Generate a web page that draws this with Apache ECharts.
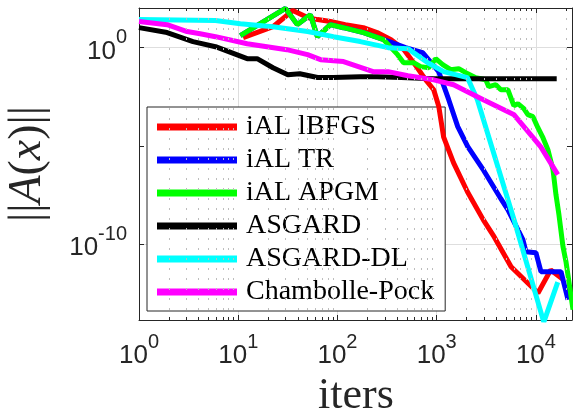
<!DOCTYPE html>
<html><head><meta charset="utf-8">
<script src="https://cdn.jsdelivr.net/npm/echarts@6/dist/echarts.min.js"></script>
<style>html,body{margin:0;padding:0;background:#fff}#c{width:573px;height:416px}</style>
</head><body><div id="c"></div>
<script>
const seriesNames = ['iAL lBFGS', 'iAL TR', 'iAL APGM', 'ASGARD', 'ASGARD-DL', 'Chambolle-Pock'];
const seriesColors = ['#ff0000', '#0000ff', '#00ff00', '#000000', '#00ffff', '#ff00ff'];

const lbfgsIters = [11.2, 22.4, 35.5, 50, 63, 85, 120, 182, 251, 347, 468, 617, 776, 933, 1050, 1175, 1480, 2040, 2950, 3800, 5620, 10500, 14100, 19000];
const lbfgsRes = [3.24, 11.7, 77.6, 33.9, 26.9, 21.4, 14.8, 10.5, 5.9, 2.57, 0.79, 0.12, 0.023, 7.2e-3, 1e-3, 2.8e-5, 1.35e-6, 4.6e-8, 1.7e-9, 2.3e-10, 6.9e-12, 3.2e-13, 4.8e-12, 1.5e-12];

const trIters = [10.5, 29.9, 39.4, 53.4, 62.8, 84.9, 115, 183, 292, 486, 722, 1047, 1322, 1630, 2057, 2985, 4430, 5210, 7390, 7930, 10000, 11240, 17900, 21050];
const trRes = [4.09, 100, 14.9, 48, 3.63, 14.9, 10.4, 5.8, 2.55, 1, 0.556, 0.0598, 2.24e-3, 9.5e-5, 9.1e-6, 5.4e-7, 2.03e-8, 5.6e-9, 1.66e-10, 4.06e-11, 3.6e-11, 3.9e-12, 3.9e-12, 1.45e-13];

const apgmIters = [10.5, 29.9, 39.4, 53.4, 62.8, 84.9, 115, 183, 292, 404, 464, 586, 689, 830, 977, 1150, 1384, 1667, 1963, 2477, 3126, 3350, 3945, 4430, 5210, 5990, 6580, 7560, 8300, 9330, 10470, 11770, 13200, 14860, 15920, 17060, 18750, 20090, 23650];
const apgmRes = [4.09, 100, 14.9, 48, 3.63, 14.9, 10.4, 5.8, 2.55, 0.44, 0.172, 0.172, 0.108, 0.0958, 0.275, 0.136, 0.0757, 0.085, 0.0532, 0.0296, 0.0234, 0.0103, 0.013, 7.25e-3, 7.25e-3, 1.11e-3, 1.4e-3, 7.8e-4, 3.86e-4, 3.05e-4, 8.4e-5, 2.6e-5, 6.4e-6, 6.1e-7, 3.24e-8, 3.1e-9, 7.2e-11, 1.26e-11, 4.5e-14];

const asgardIters = [1, 1.92, 3.5, 5.9, 12.3, 15.5, 22.4, 31.6, 41.7, 63, 91, 170, 251, 437, 933, 16200];
const asgardRes = [10.5, 5.9, 2.04, 1.12, 0.275, 0.275, 0.095, 0.042, 0.047, 0.030, 0.030, 0.033, 0.033, 0.030, 0.026, 0.026];

const dlIters = [1, 5.9, 10.5, 22.4, 50, 91, 170, 324, 513, 813, 1175, 2040, 2570, 6030, 12000, 16600];
const dlRes = [26.9, 24, 16.6, 11.7, 6.6, 3.63, 2.04, 1, 0.89, 0.17, 0.06, 0.03, 2.24e-3, 1.66e-9, 1.05e-14, 1.15e-12];

const cpIters = [1, 1.92, 3.05, 4.13, 5.9, 12.3, 30.9, 50, 67.6, 115, 229, 324, 513, 933, 1480, 2040, 2950, 6030, 11200, 16600];
const cpRes = [21.4, 14.8, 6.6, 5.1, 3.63, 1.58, 0.79, 0.44, 0.245, 0.195, 0.06, 0.06, 0.037, 0.023, 0.0129, 5.75e-3, 2.24e-3, 3.8e-4, 8.9e-6, 3.4e-7];

const xMin = 1, xMax = 23100;
const yMin = 1.35e-14, yMax = 104.7;
const yLabelExps = [0, -10];
const yMidGrid = [1e-5];
const xDecades = [1, 10, 100, 1000, 10000];
const minorMults = [2, 3, 4, 5, 6, 7, 8, 9];

const itersList = [lbfgsIters, trIters, apgmIters, asgardIters, dlIters, cpIters];
const resList = [lbfgsRes, trRes, apgmRes, asgardRes, dlRes, cpRes];

const axisColor = '#262626';
const minorX = [];
xDecades.forEach(d => minorMults.forEach(m => { if (d * m < xMax) minorX.push(d * m); }));

const rich = {
  b: { fontFamily: 'Liberation Sans', fontSize: 26, color: axisColor, padding: [8, 0, 0, 0] },
  s: { fontFamily: 'Liberation Sans', fontSize: 20, color: axisColor, padding: [0, 0, 20, 0] }
};
function expOf(v) { const e = Math.log10(v); const r = Math.round(e); return Math.abs(e - r) < 1e-6 ? r : null; }

const chart = echarts.init(document.getElementById('c'), null, { renderer: 'canvas' });

const lineSeries = seriesNames.map((name, i) => ({
  name: name,
  type: 'line',
  xAxisIndex: 0, yAxisIndex: 0,
  data: itersList[i].map((x, j) => [x, resList[i][j]]),
  showSymbol: false, symbol: 'none',
  lineStyle: { color: seriesColors[i], width: 5 },
  itemStyle: { color: seriesColors[i] },
  clip: true, z: 2, silent: true
}));

// tick lengths expressed as fractions of a decade
const minorTickDec = 3 / 19.63, majorTickDecX = 5 / 99;
const tickSegs = [];
minorX.forEach(v => {
  tickSegs.push([{ coord: [v, yMin] }, { coord: [v, yMin * Math.pow(10, minorTickDec)] }]);
  tickSegs.push([{ coord: [v, yMax] }, { coord: [v, yMax / Math.pow(10, minorTickDec)] }]);
});
yMidGrid.forEach(v => {
  tickSegs.push([{ coord: [xMin, v] }, { coord: [xMin * Math.pow(10, majorTickDecX), v] }]);
  tickSegs.push([{ coord: [xMax, v] }, { coord: [xMax / Math.pow(10, majorTickDecX), v] }]);
});

const helperSeries = [
  {
    type: 'line', data: [], z: 0, silent: true, xAxisIndex: 0, yAxisIndex: 0,
    markLine: {
      silent: true, symbol: ['none', 'none'], label: { show: false }, animation: false,
      lineStyle: { color: '#bdbdbd', width: 1, type: [2, 8] },
      emphasis: { disabled: true },
      data: minorX.map(v => ({ xAxis: v }))
    }
  },
  {
    type: 'line', data: [], z: 0, silent: true, xAxisIndex: 0, yAxisIndex: 0,
    markLine: {
      silent: true, symbol: ['none', 'none'], label: { show: false }, animation: false,
      lineStyle: { color: '#dedede', width: 1, type: 'solid' },
      emphasis: { disabled: true },
      data: yMidGrid.map(v => ({ yAxis: v }))
    }
  },
  {
    type: 'line', data: [], z: 3, silent: true, xAxisIndex: 0, yAxisIndex: 0,
    markLine: {
      silent: true, symbol: ['none', 'none'], label: { show: false }, animation: false,
      lineStyle: { color: axisColor, width: 1, type: 'solid' },
      emphasis: { disabled: true },
      data: tickSegs
    }
  }
];

const option = {
  backgroundColor: '#ffffff',
  animation: false,
  grid: { left: 139, right: 1, top: 8, bottom: 96, containLabel: false, outerBoundsMode: 'none' },
  xAxis: [
    {
      type: 'log', min: xMin, max: xMax, position: 'bottom', splitNumber: 5,
      axisLine: { show: true, onZero: false, lineStyle: { color: axisColor, width: 1 } },
      axisTick: { show: true, inside: true, length: 5, lineStyle: { color: axisColor } },
      axisLabel: {
        show: true, margin: 12, rich: rich,
        formatter: v => { const e = expOf(v); return e === null ? '' : '{b|10}{s|' + e + '}'; }
      },
      splitLine: { show: true, lineStyle: { color: '#dedede', width: 1 } },
      minorTick: { show: false }
    },
    {
      type: 'log', min: xMin, max: xMax, position: 'top', splitNumber: 5,
      axisLine: { show: true, onZero: false, lineStyle: { color: axisColor, width: 1 } },
      axisTick: { show: true, inside: true, length: 5, lineStyle: { color: axisColor } },
      axisLabel: { show: false },
      splitLine: { show: false }
    }
  ],
  yAxis: [
    {
      type: 'log', min: yMin, max: yMax, position: 'left', splitNumber: 3,
      axisLine: { show: true, onZero: false, lineStyle: { color: axisColor, width: 1 } },
      axisTick: { show: true, inside: true, length: 5, lineStyle: { color: axisColor } },
      axisLabel: {
        show: true, margin: 12, rich: rich, align: 'right',
        formatter: v => { const e = expOf(v); return (e === null || yLabelExps.indexOf(e) < 0) ? '' : '{b|10}{s|' + e + '}'; }
      },
      splitLine: { show: true, lineStyle: { color: '#dedede', width: 1 } }
    },
    {
      type: 'log', min: yMin, max: yMax, position: 'right', splitNumber: 3,
      axisLine: { show: true, onZero: false, lineStyle: { color: axisColor, width: 1 } },
      axisTick: { show: true, inside: true, length: 5, lineStyle: { color: axisColor } },
      axisLabel: { show: false },
      splitLine: { show: false }
    }
  ],
  legend: {
    show: true, orient: 'vertical', left: 147, top: 107, z: 1,
    data: seriesNames,
    icon: 'rect', itemWidth: 80, itemHeight: 7, itemGap: 5,
    padding: [6, 11, 5, 10],
    backgroundColor: '#ffffff', borderColor: axisColor, borderWidth: 1, borderRadius: 0,
    selectedMode: false,
    textStyle: { fontFamily: 'Liberation Serif', fontSize: 28, color: '#000', lineHeight: 28, padding: [0, 0, 0, 4] }
  },
  graphic: [
    {
      type: 'text', x: 28, y: 164, rotation: Math.PI / 2, silent: true,
      style: {
        text: '{n|||}{i|A}{n|(}{i|x}{n|)}{n|||}',
        rich: {
          n: { fontFamily: 'Liberation Serif', fontSize: 46, fill: axisColor },
          i: { fontFamily: 'Liberation Serif', fontSize: 46, fontStyle: 'italic', fill: axisColor }
        },
        align: 'center', verticalAlign: 'middle', textAlign: 'center', textVerticalAlign: 'middle'
      }
    },
    {
      type: 'text', x: 356, y: 396, silent: true,
      style: {
        text: 'iters', fontFamily: 'Liberation Serif', fontSize: 44, fill: axisColor,
        align: 'center', verticalAlign: 'middle', textAlign: 'center', textVerticalAlign: 'middle'
      }
    }
  ],
  series: lineSeries.concat(helperSeries)
};
chart.setOption(option);
</script>
</body></html>
